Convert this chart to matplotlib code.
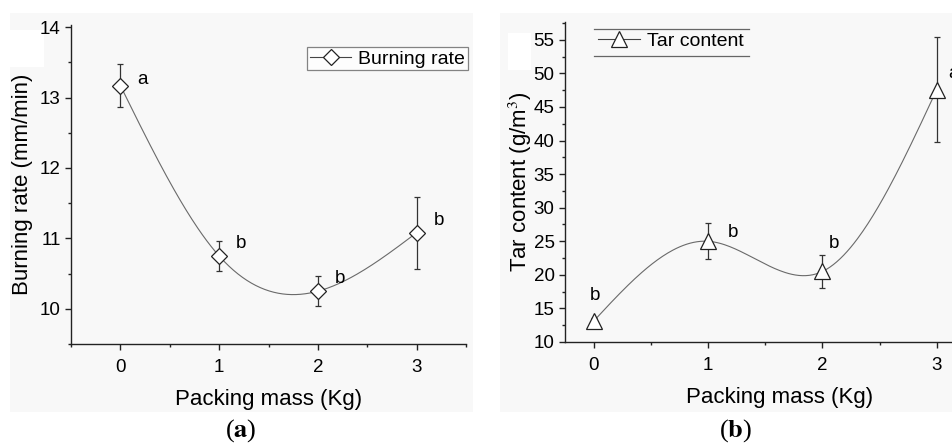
import numpy as np
import matplotlib
matplotlib.use("Agg")
import matplotlib.pyplot as plt
from matplotlib.patches import Rectangle
from matplotlib.lines import Line2D

plt.rcParams['font.family'] = ['Liberation Sans', 'DejaVu Sans']
plt.rcParams['mathtext.fontset'] = 'stix'

# Daten
mass = [0, 1, 2, 3]
burn_rate = [13.17, 10.75, 10.25, 11.08]
burn_err = [0.31, 0.21, 0.21, 0.51]
burn_letters = ['a', 'b', 'b', 'b']
tar = [13.1, 25.0, 20.5, 47.6]
tar_err = [0.4, 2.7, 2.5, 7.8]
tar_letters = ['b', 'b', 'b', 'a']


def spline(x, y, n=200):
    # natuerlicher kubischer Spline, wie die Origin-Verbindungslinie
    x = np.asarray(x, float); y = np.asarray(y, float)
    k = len(x); h = np.diff(x)
    A = np.zeros((k, k)); r = np.zeros(k)
    A[0, 0] = A[-1, -1] = 1
    for i in range(1, k - 1):
        A[i, i - 1] = h[i - 1]; A[i, i] = 2 * (h[i - 1] + h[i]); A[i, i + 1] = h[i]
        r[i] = 6 * ((y[i + 1] - y[i]) / h[i] - (y[i] - y[i - 1]) / h[i - 1])
    M = np.linalg.solve(A, r)
    xs = np.linspace(x[0], x[-1], n); ys = np.empty(n)
    for j, t in enumerate(xs):
        i = min(np.searchsorted(x, t, side='right') - 1, k - 2)
        a = x[i + 1] - t; b = t - x[i]
        ys[j] = (M[i] * a**3 + M[i + 1] * b**3) / (6 * h[i]) \
            + (y[i] / h[i] - M[i] * h[i] / 6) * a + (y[i + 1] / h[i] - M[i + 1] * h[i] / 6) * b
    return xs, ys


W, H = 952, 443
fig = plt.figure(figsize=(W / 100, H / 100), dpi=100)

# hellgraue Hintergruende der Teilbilder
fig.patches.append(Rectangle((10 / W, 1 - 412 / H), 463 / W, 399 / H, transform=fig.transFigure,
                             facecolor='#f8f8f8', edgecolor='none', zorder=-10))
fig.patches.append(Rectangle((500 / W, 1 - 412 / H), 452 / W, 399 / H, transform=fig.transFigure,
                             facecolor='#f8f8f8', edgecolor='none', zorder=-10))
fig.patches.append(Rectangle((10 / W, 1 - 67 / H), 34 / W, 37 / H, transform=fig.transFigure,
                             facecolor='white', edgecolor='none', zorder=-9))
fig.patches.append(Rectangle((508 / W, 1 - 70 / H), 23 / W, 37 / H, transform=fig.transFigure,
                             facecolor='white', edgecolor='none', zorder=-9))

ax1 = fig.add_axes([71 / W, 1 - 344 / H, 395 / W, 319 / H])
ax2 = fig.add_axes([565 / W, 1 - 342 / H, 429 / W, 320.3 / H])

for ax in (ax1, ax2):
    ax.patch.set_alpha(0)
    ax.spines['top'].set_visible(False)
    ax.spines['right'].set_visible(False)
    for s in ('left', 'bottom'):
        ax.spines[s].set_linewidth(1.0)
        ax.spines[s].set_color('#222222')
    ax.tick_params(which='major', direction='out', length=4.5, width=1.0, labelsize=13.5,
                   color='#222222', pad=3)
    ax.tick_params(axis='x', which='major', pad=6)
    ax.tick_params(which='minor', direction='out', length=2.5, width=1.0, color='#222222')
    ax.set_xticks(mass)
    ax.set_xticks([-0.5, 0.5, 1.5, 2.5, 3.5], minor=True)
    ax.set_xlabel('Packing mass (Kg)', fontsize=16, labelpad=10)

# (a) Abbrandrate
xs, ys = spline(mass, burn_rate)
ax1.plot(xs, ys, color='#6a6a6a', lw=0.8, zorder=1)
ax1.errorbar(mass, burn_rate, yerr=burn_err, fmt='none', ecolor='#333333', elinewidth=0.9,
             capsize=2.5, capthick=0.9, zorder=2)
ax1.plot(mass, burn_rate, 'D', ms=8, mfc='white', mec='#222222', mew=0.9, zorder=3)
for x, y, lab in zip(mass, burn_rate, burn_letters):
    dy = 0.08 if lab == 'a' else 0.18
    ax1.text(x + 0.17, y + dy, lab, fontsize=13.5, va='center', ha='left')
ax1.set_xlim(-0.5, 3.5)
ax1.set_ylim(9.5, 14.03)
ax1.set_yticks([10, 11, 12, 13, 14])
ax1.set_yticks([9.5, 10.5, 11.5, 12.5, 13.5], minor=True)
ax1.set_ylabel('Burning rate (mm/min)', fontsize=16, labelpad=5)
h1 = Line2D([], [], color='#444444', lw=0.8, marker='D', ms=8, mfc='white', mec='#222222', mew=0.9)
leg1 = ax1.legend([h1], ['Burning rate'], loc='upper right', bbox_to_anchor=(468 / W, 1 - 47 / H),
                  bbox_transform=fig.transFigure, fontsize=14, frameon=True, fancybox=False,
                  handlelength=2.15, handletextpad=0.35, borderpad=0.15, borderaxespad=0)
leg1.get_frame().set_edgecolor('#666666')
leg1.get_frame().set_linewidth(0.9)
leg1.get_frame().set_facecolor('white')

# (b) Teergehalt
xs, ys = spline(mass, tar)
ax2.plot(xs, ys, color='#6a6a6a', lw=0.8, zorder=1)
ax2.errorbar(mass, tar, yerr=tar_err, fmt='none', ecolor='#333333', elinewidth=0.9,
             capsize=2.5, capthick=0.9, zorder=2)
ax2.plot(mass, tar, '^', ms=11, mfc='white', mec='#222222', mew=0.9, zorder=3)
offs = [(-0.03, 3.8), (0.17, 1.3), (0.06, 4.1), (0.1, 2.4)]
for x, y, lab, (ox, oy) in zip(mass, tar, tar_letters, offs):
    ax2.text(x + ox, y + oy, lab, fontsize=13.5, va='center', ha='left')
ax2.set_xlim(-0.25, 3.5)
ax2.set_ylim(10, 57.7)
ax2.set_yticks(np.arange(10, 56, 5))
ax2.set_yticks(np.arange(12.5, 58, 5), minor=True)
ax2.set_ylabel('Tar content (g/m$^3$)', fontsize=16, labelpad=0)
h2 = Line2D([], [], color='#444444', lw=0.8, marker='^', ms=11, mfc='white', mec='#222222', mew=0.9)
leg2 = ax2.legend([h2], ['Tar content'], loc='upper left', bbox_to_anchor=(595 / W, 1 - 29 / H),
                  bbox_transform=fig.transFigure, fontsize=14, frameon=False,
                  handlelength=2.15, handletextpad=0.35, borderpad=0.15, borderaxespad=0)
for yy in (29, 56):
    fig.add_artist(Line2D([594 / W, 749 / W], [1 - yy / H, 1 - yy / H], transform=fig.transFigure,
                          color='#666666', lw=0.9))

fig.text(241 / W, 1 - 431 / H, r'($\mathbf{a}$)', fontsize=19, family='Liberation Serif',
         ha='center', va='center')
fig.text(736 / W, 1 - 431 / H, r'($\mathbf{b}$)', fontsize=19, family='Liberation Serif',
         ha='center', va='center')

fig.savefig('out.png', dpi=100)
